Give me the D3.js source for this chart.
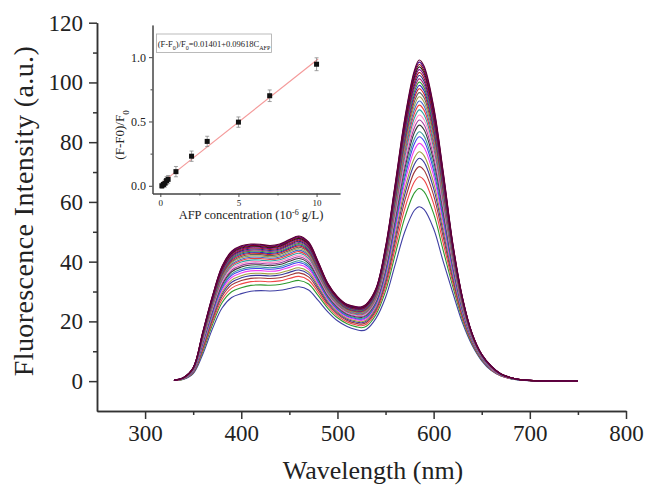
<!DOCTYPE html>
<html>
<head>
<meta charset="utf-8">
<script src="https://cdn.jsdelivr.net/npm/d3@7"></script>
<style>
  body { margin: 0; background: #fff; }
  text { font-family: "Liberation Serif", "Times New Roman", serif; fill: #222; }
</style>
</head>
<body>
<svg id="chart" width="648" height="486"></svg>
<script>
// wavelengths (nm) where the spectra were read
const wavelengths = [330,340,350,360,370,380,390,400,410,420,430,440,450,460,470,480,490,500,510,520,525,530,540,550,560,570,580,585,590,600,610,620,630,640,650,660,670,680,690,700,720,750];
// lowest spectrum (blank) and highest spectrum
const lowestSpectrum = [0.2,0.6,2.5,9,17.5,24.5,28,29.3,30.1,30.3,30.2,30.4,31,31.6,30.5,27,23.2,20.2,18.3,17.2,16.9,17.3,21,28,39,50,57.2,58.4,57.5,51,40,29.5,19.5,12,6.8,3.5,1.7,0.8,0.35,0.15,0.05,0.03];
const highestSpectrum = [0.3,1.2,4.5,16.5,28.5,38.5,43.5,45.3,45.9,45.8,45.4,45.9,47.4,48.6,46.6,40,32.8,28.3,25.7,24.9,24.9,25.8,31,45,66,88,104,107.5,105.5,92,70,46,28,16,9,5,2.4,1.2,0.5,0.25,0.08,0.05];
// intensity of every spectrum at 585 nm, bottom to top
const peakIntensity = [58.4,64.5,68.4,71.8,74.6,76.8,79.6,81.8,83.5,85.7,87.4,89.1,90.8,92.4,93.8,95.2,96.6,97.9,99,100.1,101.2,102.3,103.3,104.3,105.2,106,106.8,107.5];
const curveColors = ["#4040a4","#2f9a2f","#f04848","#a03838","#3a3a9a","#a0a040","#f040f0","#4040f0","#3a9a9a","#3a3a3a","#a040a0","#ff88c8","#30a0a0","#f03c3c","#4468c8","#a0a050","#606060","#d02020","#2828c0","#3a9a3a","#a02878","#282888","#a01818","#800080","#202020","#900000","#4b0082","#600030"];

// inset: calibration data
const afpConc = [0.1,0.2,0.3,0.4,0.5,1,2,3,5,7,10];
const afpRatio = [0.0,0.01,0.02,0.04,0.05,0.11,0.23,0.345,0.495,0.70,0.945];
const afpError = [0.02,0.02,0.03,0.03,0.03,0.04,0.04,0.04,0.04,0.045,0.05];
const fitIntercept = 0.01401;
const fitSlope = 0.09618;
const fitRange = [0.05, 10.1];

const svg = d3.select("#chart");

// ---------- main plot ----------
const x = d3.scaleLinear().domain([250, 800]).range([97, 626]);
const y = d3.scaleLinear().domain([-10, 120]).range([411, 22.7]);

const base585 = lowestSpectrum[wavelengths.indexOf(585)];
const top585 = highestSpectrum[wavelengths.indexOf(585)];

const spectra = peakIntensity.map(p => {
    const k = (p - base585) / (top585 - base585);
    return wavelengths.map((w, i) => [w, lowestSpectrum[i] + k * (highestSpectrum[i] - lowestSpectrum[i])]);
});

const line = d3.line()
    .x(d => x(d[0]))
    .y(d => y(d[1]))
    .curve(d3.curveCatmullRom.alpha(0.5));

svg.append("g")
    .selectAll("path")
    .data(spectra)
    .join("path")
    .attr("d", line)
    .attr("fill", "none")
    .attr("stroke", (d, i) => curveColors[i % curveColors.length])
    .attr("stroke-width", 1.1);

// axes
const styleAxis = g => {
    g.select(".domain").attr("stroke", "#333").attr("stroke-width", 1.5);
    g.selectAll(".tick line").attr("stroke", "#333").attr("stroke-width", 1.5);
};

svg.append("g")
    .attr("transform", "translate(0,411)")
    .call(d3.axisBottom(x).tickValues([350,450,550,650,750]).tickSize(4).tickFormat("").tickSizeOuter(0))
    .call(styleAxis);
svg.append("g")
    .attr("transform", "translate(0,411)")
    .call(d3.axisBottom(x).tickValues([300,400,500,600,700,800]).tickSize(8).tickPadding(6).tickSizeOuter(0))
    .call(styleAxis)
    .selectAll("text")
    .style("font-size", "23px")
    .attr("fill", "#222");

svg.append("g")
    .attr("transform", "translate(97,0)")
    .call(d3.axisLeft(y).tickValues([10,30,50,70,90,110]).tickSize(4).tickFormat("").tickSizeOuter(0))
    .call(styleAxis);
svg.append("g")
    .attr("transform", "translate(97,0)")
    .call(d3.axisLeft(y).tickValues([0,20,40,60,80,100,120]).tickSize(8).tickPadding(6).tickSizeOuter(0))
    .call(styleAxis)
    .selectAll("text")
    .style("font-size", "23px")
    .attr("fill", "#222");

// titles
svg.append("text")
    .attr("x", 373)
    .attr("y", 479)
    .attr("text-anchor", "middle")
    .style("font-size", "26px")
    .text("Wavelength (nm)");

svg.append("text")
    .attr("transform", "translate(33,211) rotate(-90)")
    .attr("text-anchor", "middle")
    .style("font-size", "28px")
    .style("letter-spacing", "0.4px")
    .text("Fluorescence Intensity (a.u.)");

// ---------- inset ----------
const ix = d3.scaleLinear().domain([-0.5, 11.5]).range([152.5, 340]);
const iy = d3.scaleLinear().domain([-0.06, 1.25]).range([193.5, 25]);

const inset = svg.append("g");

const styleInset = g => {
    g.select(".domain").attr("stroke", "#444").attr("stroke-width", 1);
    g.selectAll(".tick line").attr("stroke", "#444");
};

inset.append("g")
    .attr("transform", "translate(0,193.5)")
    .call(d3.axisBottom(ix).tickValues([2.5, 7.5]).tickSize(2).tickFormat("").tickSizeOuter(0))
    .call(styleInset);
inset.append("g")
    .attr("transform", "translate(0,193.5)")
    .call(d3.axisBottom(ix).tickValues([0, 5, 10]).tickSize(3.5).tickPadding(3).tickSizeOuter(0))
    .call(styleInset)
    .selectAll("text")
    .style("font-size", "9px")
    .attr("fill", "#333");

inset.append("g")
    .attr("transform", "translate(152.5,0)")
    .call(d3.axisLeft(iy).tickValues([0.25, 0.75]).tickSize(2).tickFormat("").tickSizeOuter(0))
    .call(styleInset);
inset.append("g")
    .attr("transform", "translate(152.5,0)")
    .call(d3.axisLeft(iy).tickValues([0, 0.5, 1.0]).tickSize(3.5).tickPadding(3).tickFormat(d3.format(".1f")).tickSizeOuter(0))
    .call(styleInset)
    .selectAll("text")
    .style("font-size", "12px")
    .attr("fill", "#333");

// fit line
inset.append("line")
    .attr("x1", ix(fitRange[0]))
    .attr("y1", iy(fitIntercept + fitSlope * fitRange[0]))
    .attr("x2", ix(fitRange[1]))
    .attr("y2", iy(fitIntercept + fitSlope * fitRange[1]))
    .attr("stroke", "#f49a9a")
    .attr("stroke-width", 1.2);

// error bars + points
const pts = afpConc.map((c, i) => ({ c, r: afpRatio[i], e: afpError[i] }));
const bars = inset.append("g").attr("stroke", "#888").attr("stroke-width", 0.8);
bars.selectAll("line.v")
    .data(pts)
    .join("line")
    .attr("class", "v")
    .attr("x1", d => ix(d.c)).attr("x2", d => ix(d.c))
    .attr("y1", d => iy(d.r - d.e)).attr("y2", d => iy(d.r + d.e));
bars.selectAll("line.t")
    .data(pts)
    .join("line")
    .attr("class", "t")
    .attr("x1", d => ix(d.c) - 2).attr("x2", d => ix(d.c) + 2)
    .attr("y1", d => iy(d.r + d.e)).attr("y2", d => iy(d.r + d.e));
bars.selectAll("line.b")
    .data(pts)
    .join("line")
    .attr("class", "b")
    .attr("x1", d => ix(d.c) - 2).attr("x2", d => ix(d.c) + 2)
    .attr("y1", d => iy(d.r - d.e)).attr("y2", d => iy(d.r - d.e));

inset.append("g")
    .selectAll("rect")
    .data(pts)
    .join("rect")
    .attr("x", d => ix(d.c) - 2.5)
    .attr("y", d => iy(d.r) - 2.5)
    .attr("width", 5)
    .attr("height", 5)
    .attr("fill", "#111");

// equation box
inset.append("rect")
    .attr("x", 156.5).attr("y", 34)
    .attr("width", 115).attr("height", 18.5)
    .attr("fill", "#fff")
    .attr("stroke", "#aaa")
    .attr("stroke-width", 0.8);

const eq = inset.append("text")
    .attr("x", 214)
    .attr("y", 47)
    .attr("text-anchor", "middle")
    .style("font-size", "8.5px");
eq.append("tspan").text("(F-F");
eq.append("tspan").attr("baseline-shift", "sub").style("font-size", "6px").text("0");
eq.append("tspan").text(")/F");
eq.append("tspan").attr("baseline-shift", "sub").style("font-size", "6px").text("0");
eq.append("tspan").text("=0.01401+0.09618C");
eq.append("tspan").attr("baseline-shift", "sub").style("font-size", "6px").text("AFP");

// inset titles
const ylab = inset.append("text")
    .attr("transform", "translate(124,135) rotate(-90)")
    .attr("text-anchor", "middle")
    .style("font-size", "13px");
ylab.append("tspan").text("(F-F0)/F");
ylab.append("tspan").attr("baseline-shift", "sub").style("font-size", "9px").text("0");

const xlab = inset.append("text")
    .attr("x", 251)
    .attr("y", 219)
    .attr("text-anchor", "middle")
    .style("font-size", "12.5px");
xlab.append("tspan").text("AFP concentration (10");
xlab.append("tspan").attr("baseline-shift", "super").style("font-size", "8px").text("-6");
xlab.append("tspan").text(" g/L)");
</script>
</body>
</html>
